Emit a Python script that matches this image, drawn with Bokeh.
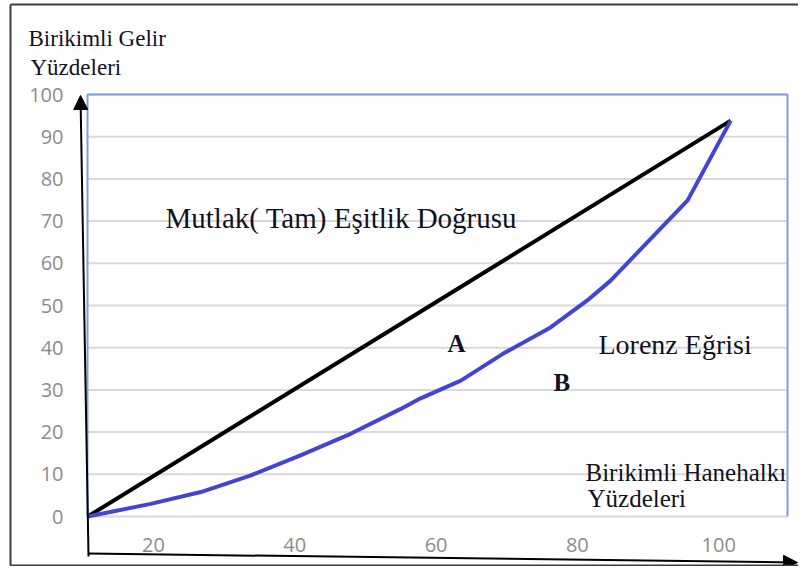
from bokeh.plotting import figure
from bokeh.models import Range1d, FixedTicker, Label, Arrow, NormalHead, LinearAxis
from bokeh.embed import file_html
from bokeh.resources import INLINE

# ---- data ----
equality_x = [10.7, 101.7]
equality_y = [0.0, 93.8]
lorenz_x = [10.7, 19.6, 26.7, 33.7, 40.8, 47.9, 55.0, 57.8, 63.5, 69.5, 76.2, 81.4, 84.7, 95.6, 101.7]
lorenz_y = [0.0, 3.0, 5.8, 9.7, 14.5, 19.6, 25.5, 28.0, 32.2, 38.6, 44.8, 51.2, 55.9, 74.9, 93.8]
x_ticks = [20, 40, 60, 80, 100]
y_ticks = [0, 10, 20, 30, 40, 50, 60, 70, 80, 90, 100]

# ---- layout (pixel positions of the plot box inside the canvas) ----
W, H = 798, 566
PL, PR, PT, PB = 87, 787, 94, 516      # plot box edges, canvas px
X0, X1 = 10.66, 109.74                 # x values at the box's left / right edge
Y0, Y1 = 0, 100
SX = (PR - PL) / (X1 - X0)
SY = (PB - PT) / (Y1 - Y0)
XA = X0 - PL / SX
XB = X0 + (W - PL) / SX
YT = Y1 + PT / SY
YB = Y0 - (H - PB) / SY


def dx(px):
    return XA + px / SX


def dy(py):
    return YT - py / SY


p = figure(width=W, height=H, x_range=Range1d(XA, XB), y_range=Range1d(YB, YT),
           output_backend="svg", toolbar_location=None,
           x_axis_location=None, y_axis_location=None,
           min_border=0, min_border_left=0, min_border_right=0,
           min_border_top=0, min_border_bottom=0)
p.background_fill_color = "white"
p.border_fill_color = "white"
p.outline_line_color = None
for g in p.grid:
    g.visible = False

# horizontal grid lines limited to the plot box
p.segment(x0=[X0] * len(y_ticks), x1=[X1] * len(y_ticks), y0=y_ticks, y1=y_ticks,
          line_color="#d9d9d9", line_width=2)

# axes placed inside the canvas
yax = LinearAxis(fixed_location=X0, ticker=FixedTicker(ticks=y_ticks))
xax = LinearAxis(fixed_location=0, ticker=FixedTicker(ticks=x_ticks))
for ax in (xax, yax):
    ax.axis_line_color = None
    ax.major_tick_line_color = None
    ax.minor_tick_line_color = None
    ax.major_tick_out = 0
    ax.major_tick_in = 0
    ax.major_label_text_font = "Open Sans"
    ax.major_label_text_font_size = "20px"
    ax.major_label_text_color = "#8c8c8c"
yax.major_label_standoff = 24
xax.major_label_standoff = 21
p.add_layout(yax, "left")
p.add_layout(xax, "below")

# blue plot-box border (left, top, right)
p.line([X0, X0, X1, X1], [Y0, Y1, Y1, Y0], line_color="#7e9edb", line_width=2)

p.line(equality_x, equality_y, line_color="black", line_width=4, line_join="round")
p.line(lorenz_x, lorenz_y, line_color="#4343d5", line_width=4, line_join="round")

serif = "Liberation Serif"
txt = "#111122"


def lab(text, px, py, size, bold=False):
    p.add_layout(Label(x=dx(px), y=dy(py), text=text, text_font=serif,
                       text_font_size=f"{size}px", text_color=txt,
                       text_font_style="bold" if bold else "normal",
                       text_align="left", text_baseline="alphabetic"))


lab("Birikimli Gelir", 28, 38, 23)
lab("Yüzdeleri", 30, 67, 23)
lab("Mutlak( Tam) Eşitlik Doğrusu", 165, 217, 29)
lab("A", 447, 343, 25, bold=True)
lab("Lorenz Eğrisi", 598, 344, 28)
lab("B", 553, 382, 25, bold=True)
lab("Birikimli Hanehalkı", 585, 472, 25)
lab("Yüzdeleri", 587, 498, 25)

# axis arrows
p.add_layout(Arrow(x_start=dx(88), y_start=dy(556), x_end=dx(80), y_end=dy(95),
                   line_color="black", line_width=2,
                   end=NormalHead(size=14, fill_color="black", line_color="black")))
p.add_layout(Arrow(x_start=dx(88), y_start=dy(553), x_end=dx(797), y_end=dy(562),
                   line_color="black", line_width=2,
                   end=NormalHead(size=14, fill_color="black", line_color="black")))

# outer frame
frame_col = "#3c3c3c"
for (xa, ya, xb, yb) in [(10, 4, 798, 4), (10, 4, 10, 565), (10, 565, 798, 565)]:
    p.add_layout(Arrow(x_start=dx(xa), y_start=dy(ya), x_end=dx(xb), y_end=dy(yb),
                       line_color=frame_col, line_width=2, end=None))

open("out.html", "w").write(file_html(p, INLINE))
